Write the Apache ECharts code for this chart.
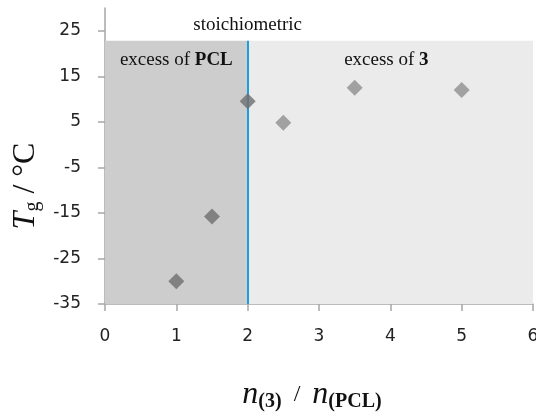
<!DOCTYPE html>
<html>
<head>
<meta charset="utf-8">
<script src="https://cdn.jsdelivr.net/npm/echarts@6/dist/echarts.min.js"></script>
<style>
  html, body { margin: 0; padding: 0; background: #fff; }
  #chart { width: 536px; height: 414px; }
</style>
</head>
<body>
<div id="chart"></div>
<script>
// n(3)/n(PCL) ratio and measured Tg
const ratios = [1, 1.5, 2, 2.5, 3.5, 5];
const tgValues = [-30, -15.8, 9.5, 4.8, 12.5, 12];

const xTicks = [0, 1, 2, 3, 4, 5, 6];
const yTicks = [-35, -25, -15, -5, 5, 15, 25];

// regions either side of the stoichiometric ratio
const stoich = 2;
const regionTop = 22.8;

const SERIF = "'Liberation Serif', 'Times New Roman', serif";
const SANS = "'DejaVu Sans', sans-serif";

const chart = echarts.init(document.getElementById("chart"));

const axisLine = {show: true, onZero: false, lineStyle: {color: "#a6a6a6", width: 1.5}};
const tickStyle = {color: "#a6a6a6", width: 1.5};
const tickLabel = {fontFamily: SANS, fontSize: 17, color: "#222"};

chart.setOption({
    animation: false,
    grid: {left: 105, right: 3, top: 8, bottom: 110, outerBoundsMode: "none", containLabel: false},
    xAxis: {
        type: "value",
        min: 0,
        max: 6,
        interval: 1,
        splitLine: {show: false},
        axisLine: axisLine,
        axisTick: {show: true, length: 7, lineStyle: tickStyle, customValues: xTicks},
        axisLabel: Object.assign({margin: 24, customValues: xTicks}, tickLabel),
        name: "{i|n}{sub|(3)}{r|  /  }{i|n}{sub|(PCL)}",
        nameLocation: "middle",
        nameGap: 74,
        nameTextStyle: {
            padding: [0, 14, 0, 0],
            rich: {
                i: {fontFamily: SERIF, fontStyle: "italic", fontSize: 32, lineHeight: 34, color: "#111"},
                r: {fontFamily: SERIF, fontSize: 24, lineHeight: 34, color: "#111"},
                sub: {fontFamily: SERIF, fontWeight: "bold", fontSize: 20, lineHeight: 14, verticalAlign: "bottom", color: "#111"}
            }
        }
    },
    yAxis: {
        type: "value",
        min: -35,
        max: 30,
        splitLine: {show: false},
        axisLine: axisLine,
        axisTick: {show: true, length: 7, lineStyle: tickStyle, customValues: yTicks},
        axisLabel: Object.assign({margin: 24, customValues: yTicks}, tickLabel),
        name: "{i|T}{sub|g}{r| / °C}",
        nameLocation: "middle",
        nameRotate: 90,
        nameGap: 62,
        nameTextStyle: {
            padding: [0, 60, 0, 0],
            rich: {
                i: {fontFamily: SERIF, fontStyle: "italic", fontSize: 32, lineHeight: 34, color: "#111"},
                r: {fontFamily: SERIF, fontSize: 32, lineHeight: 34, color: "#111"},
                sub: {fontFamily: SERIF, fontSize: 20, lineHeight: 10, verticalAlign: "bottom", color: "#111"}
            }
        }
    },
    series: [{
        type: "scatter",
        symbol: "diamond",
        symbolSize: 16,
        z: 5,
        data: ratios.map((x, i) => ({
            value: [x, tgValues[i]],
            itemStyle: {color: x <= stoich ? "#6e6e6e" : "#8f8f8f"}
        })),
        markArea: {
            silent: true,
            z: 1,
            label: {
                position: "insideTop",
                distance: 10,
                fontFamily: SERIF,
                fontSize: 19,
                color: "#111",
                rich: {b: {fontFamily: SERIF, fontSize: 19, fontWeight: "bold", color: "#111"}}
            },
            data: [
                [{name: "excess of {b|PCL}", xAxis: 0, yAxis: -35, itemStyle: {color: "#cdcdcd"}},
                 {xAxis: stoich, yAxis: regionTop}],
                [{name: "excess of {b|3}", xAxis: stoich, yAxis: -35, itemStyle: {color: "#ebebeb"},
                  label: {offset: [-4, 0]}},
                 {xAxis: 6, yAxis: regionTop}]
            ]
        },
        markLine: {
            silent: true,
            symbol: "none",
            z: 3,
            lineStyle: {color: "#1b9ddf", width: 2, type: "solid"},
            label: {
                position: "end",
                distance: 6,
                formatter: "stoichiometric",
                fontFamily: SERIF,
                fontSize: 19,
                color: "#111"
            },
            data: [[{coord: [stoich, -35]}, {coord: [stoich, regionTop]}]]
        }
    }]
});
</script>
</body>
</html>
